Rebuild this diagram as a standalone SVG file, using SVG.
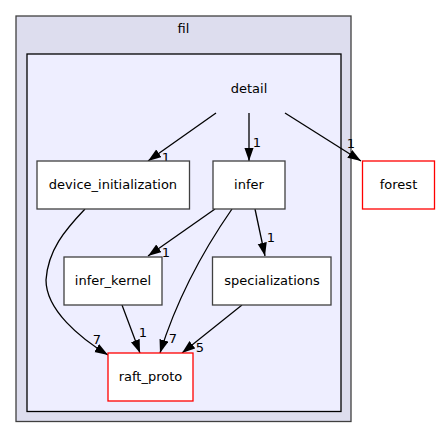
<svg xmlns="http://www.w3.org/2000/svg" width="440" height="438" viewBox="0 0 440 438">
<style>
text{font-family:"DejaVu Sans",sans-serif;font-size:13px;fill:#000}
.node rect{fill:#fff;stroke:#404040;stroke-width:1.3}
.red rect{stroke:#ff0000}
.e path{fill:none;stroke:#000;stroke-width:1.3}
.lbl{text-anchor:middle}
</style>
<defs>
<marker id="ah" markerUnits="userSpaceOnUse" markerWidth="14" markerHeight="10" refX="13.3" refY="4.65" orient="auto">
<path d="M0,0 L13.3,4.65 L0,9.3 z" fill="#000"/>
</marker>
</defs>
<rect width="440" height="438" fill="#fff"/>
<g id="cluster_fil">
<rect x="16" y="16" width="335" height="405.5" fill="#ddddee" stroke="#404040" stroke-width="1.3"/>
<text x="183.5" y="33" class="lbl">fil</text>
</g>
<g id="cluster_detail">
<rect x="27" y="54" width="314" height="357.5" fill="#eeeeff" stroke="#000" stroke-width="1.3"/>
<text x="249" y="93" class="lbl">detail</text>
</g>
<g id="edges" class="e">
<path d="M216,113 L148,161" marker-end="url(#ah)"/>
<text x="166" y="162" class="lbl">1</text>
<path d="M249,113 L249,161" marker-end="url(#ah)"/>
<text x="257" y="147" class="lbl">1</text>
<path d="M285,113 L361,161" marker-end="url(#ah)"/>
<text x="351" y="148" class="lbl">1</text>
<path d="M215,209 L148,256" marker-end="url(#ah)"/>
<text x="166" y="257" class="lbl">1</text>
<path d="M255,209 L265,256" marker-end="url(#ah)"/>
<text x="271" y="241.5" class="lbl">1</text>
<path d="M232,209 C200,255 175,305 160,353" marker-end="url(#ah)"/>
<text x="173" y="343" class="lbl">7</text>
<path d="M242,305 L182,353" marker-end="url(#ah)"/>
<text x="200" y="352" class="lbl">5</text>
<path d="M122,305 L140,353" marker-end="url(#ah)"/>
<text x="143" y="337" class="lbl">1</text>
<path d="M85,209 C65,230 48,250 46,280 C46,310 80,338 108,355" marker-end="url(#ah)"/>
<text x="97" y="344" class="lbl">7</text>
</g>
<g id="node_device_initialization" class="node">
<rect x="37" y="161" width="152.5" height="48"/>
<text x="113" y="189" class="lbl">device_initialization</text>
</g>
<g id="node_infer" class="node">
<rect x="213" y="161" width="72" height="48"/>
<text x="249" y="189" class="lbl">infer</text>
</g>
<g id="node_forest" class="node red">
<rect x="362.5" y="161" width="72" height="48"/>
<text x="398.5" y="189" class="lbl">forest</text>
</g>
<g id="node_infer_kernel" class="node">
<rect x="64" y="257" width="98" height="48"/>
<text x="113" y="285" class="lbl">infer_kernel</text>
</g>
<g id="node_specializations" class="node">
<rect x="212.5" y="257" width="118.5" height="48"/>
<text x="272" y="285" class="lbl">specializations</text>
</g>
<g id="node_raft_proto" class="node red">
<rect x="108" y="353" width="85" height="48"/>
<text x="150.5" y="381" class="lbl">raft_proto</text>
</g>
</svg>
